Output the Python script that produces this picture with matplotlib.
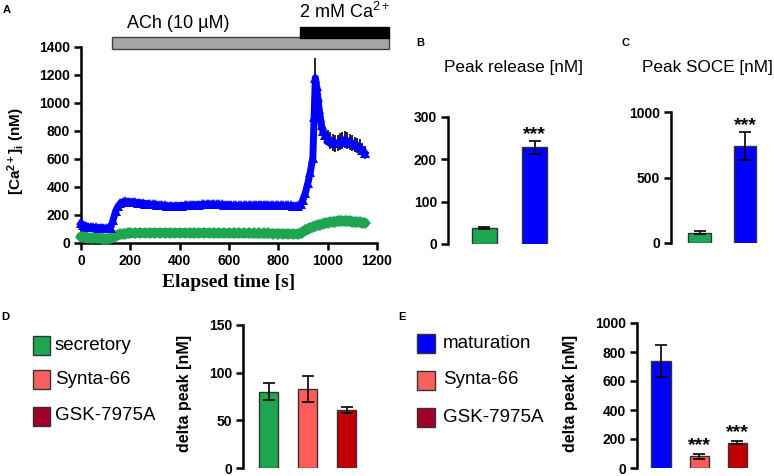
import matplotlib
matplotlib.use('Agg')
import matplotlib.pyplot as plt
from matplotlib.patches import Rectangle
import matplotlib.transforms as mtransforms

plt.rcParams['font.family'] = ['Liberation Sans', 'DejaVu Sans']
plt.rcParams['font.weight'] = 'bold'
plt.rcParams['mathtext.default'] = 'regular'

# ---------------- data ----------------
# Panel A: (time [s], mean [nM], sem [nM])
blue_trace = [
    (0, 140, 12), (10, 128, 12), (20, 120, 10), (30, 116, 10), (40, 114, 10), (50, 112, 10),
    (60, 111, 10), (70, 110, 10), (80, 109, 10), (90, 108, 10), (100, 106, 10), (110, 104, 10),
    (120, 108, 10), (130, 165, 15), (140, 225, 15), (150, 262, 15), (160, 284, 12), (170, 294, 12),
    (180, 298, 12), (190, 296, 12), (200, 294, 12), (210, 292, 12), (220, 290, 12), (230, 288, 12),
    (240, 286, 12), (250, 284, 12), (260, 282, 12), (270, 280, 12), (280, 278, 12), (290, 276, 12),
    (300, 275, 12), (310, 273, 12), (320, 271, 12), (330, 270, 12), (340, 268, 12), (350, 266, 12),
    (360, 265, 12), (370, 264, 12), (380, 264, 12), (390, 265, 12), (400, 266, 12), (410, 267, 12),
    (420, 268, 12), (430, 270, 12), (440, 270, 12), (450, 271, 12), (460, 272, 12), (470, 273, 12),
    (480, 274, 12), (490, 275, 12), (500, 276, 12), (510, 277, 12), (520, 278, 12), (530, 278, 12),
    (540, 278, 12), (550, 277, 12), (560, 276, 12), (570, 275, 12), (580, 274, 12), (590, 272, 12),
    (600, 271, 12), (610, 270, 12), (620, 269, 12), (630, 268, 12), (640, 268, 12), (650, 268, 12),
    (660, 269, 12), (670, 270, 12), (680, 270, 12), (690, 271, 12), (700, 271, 12), (710, 272, 12),
    (720, 272, 12), (730, 272, 12), (740, 272, 12), (750, 271, 12), (760, 271, 12), (770, 270, 12),
    (780, 270, 12), (790, 270, 12), (800, 270, 12), (810, 270, 12), (820, 269, 12), (830, 269, 12),
    (840, 268, 12), (850, 268, 12), (860, 267, 12), (870, 266, 12), (880, 266, 12), (890, 275, 15),
    (900, 310, 20), (910, 360, 25), (920, 430, 30), (930, 510, 35), (940, 610, 45), (945, 900, 90),
    (950, 1180, 145), (955, 1120, 70), (960, 1040, 65), (965, 960, 65), (970, 900, 65), (975, 840, 65),
    (980, 800, 65), (990, 770, 60), (1000, 750, 60), (1010, 735, 60), (1020, 720, 60), (1030, 712, 60),
    (1040, 715, 60), (1050, 725, 60), (1060, 735, 60), (1070, 738, 60), (1080, 730, 60), (1090, 722, 60),
    (1100, 715, 60), (1110, 705, 55), (1120, 698, 55), (1130, 685, 55), (1140, 665, 50), (1150, 645, 45),
]
green_trace = [
    (0, 45), (10, 42), (20, 40), (30, 38), (40, 37), (50, 36), (60, 35), (70, 34), (80, 33), (90, 32),
    (100, 32), (110, 31), (120, 34), (130, 42), (140, 50), (150, 56), (160, 61), (170, 65), (180, 67),
    (190, 69), (200, 70), (220, 71), (240, 71), (260, 72), (280, 72), (300, 72), (320, 72), (340, 72),
    (360, 72), (380, 72), (400, 72), (420, 72), (440, 72), (460, 71), (480, 71), (500, 71), (520, 71),
    (540, 71), (560, 70), (580, 70), (600, 70), (620, 70), (640, 70), (660, 69), (680, 69), (700, 69),
    (720, 68), (740, 68), (760, 68), (780, 67), (800, 67), (820, 66), (840, 66), (860, 65), (880, 64),
    (890, 68), (900, 80), (910, 90), (920, 100), (930, 108), (940, 115), (950, 121), (960, 127),
    (970, 132), (980, 137), (990, 141), (1000, 145), (1010, 148), (1020, 151), (1030, 153), (1040, 155),
    (1050, 156), (1060, 156), (1070, 156), (1080, 155), (1090, 154), (1100, 153), (1110, 151),
    (1120, 150), (1130, 148), (1140, 146), (1150, 142),
]
ach_start, ach_end = 126, 1250
ca_start, ca_end = 888, 1250

# Panel B / C
peak_release = [38, 228]
peak_release_err = [3, 16]
peak_soce = [80, 740]
peak_soce_err = [8, 110]

# Panel D / E
d_labels = ['secretory', 'Synta-66', 'GSK-7975A']
d_values = [80, 83, 61]
d_err = [9, 14, 3]
e_labels = ['maturation', 'Synta-66', 'GSK-7975A']
e_values = [740, 80, 175]
e_err = [110, 18, 12]

GREEN = '#1DA550'
BLUE = '#0000FF'
SALMON = '#FF5B5B'
DARKRED = '#C00000'
LEG_DARKRED = '#A3002A'
LEG_SALMON = '#F8605E'

W, H = 774, 476
fig = plt.figure(figsize=(W / 100, H / 100), dpi=100)


def add_ax(l, t, r, b):
    return fig.add_axes([l / W, 1 - b / H, (r - l) / W, (b - t) / H])


def ftext(x, y, s, **kw):
    return fig.text(x / W, 1 - y / H, s, **kw)


ARIAL = dict(family='Liberation Sans', weight='normal')


def style(ax, xaxis=True):
    for s in ['top', 'right']:
        ax.spines[s].set_visible(False)
    ax.spines['left'].set_linewidth(1.8)
    if xaxis:
        ax.spines['bottom'].set_linewidth(1.8)
    else:
        ax.spines['bottom'].set_visible(False)
        ax.set_xticks([])
    ax.tick_params(direction='out', length=5, width=1.8, pad=3, labelsize=10)


def stars(ax, x, y, dy):
    ax.annotate('***', xy=(x, y), xytext=(0, dy), textcoords='offset points',
                ha='center', va='bottom', size=14)


# ---------------- Panel A ----------------
axA = add_ax(81, 47, 377, 243)
style(axA)
bt = [p[0] for p in blue_trace]
bv = [p[1] for p in blue_trace]
be = [p[2] for p in blue_trace]
gt = [p[0] for p in green_trace]
gv = [p[1] for p in green_trace]
axA.plot(gt, gv, color=GREEN, lw=7, marker='D', ms=6, mew=0, solid_capstyle='round', clip_on=False, zorder=3)
axA.errorbar(bt, bv, yerr=be, color=BLUE, lw=5, marker='^', ms=7, mew=0, ecolor='black',
             elinewidth=1.2, capsize=2.5, capthick=1.2, clip_on=False, zorder=4)
axA.set_xlim(0, 1200)
axA.set_ylim(0, 1400)
axA.set_xticks(range(0, 1201, 200))
axA.set_yticks(range(0, 1401, 200))
axA.set_xlabel('Elapsed time [s]', family='Liberation Serif', weight='bold', size=14, labelpad=4)
trans = mtransforms.blended_transform_factory(axA.transData, axA.transAxes)
axA.add_patch(Rectangle((ach_start, 0.99), ach_end - ach_start, 0.061, transform=trans, clip_on=False,
                        facecolor='#A6A6A6', edgecolor='#404040', lw=1, zorder=5))
axA.add_patch(Rectangle((ca_start, 1.046), ca_end - ca_start, 0.056, transform=trans, clip_on=False,
                        facecolor='black', edgecolor='black', lw=1, zorder=6))
ftext(16, 151, r'[Ca$^{2+}$]$_{i}$ (nM)', rotation=90, ha='center', va='center', size=11)
ftext(178, 24, 'ACh (10 µM)', ha='center', va='center', size=13, **ARIAL)
ftext(345, 12, r'2 mM Ca$^{2+}$', ha='center', va='center', size=13, **ARIAL)
ftext(7, 10, 'A', ha='center', va='center', size=8)

# ---------------- Panel B ----------------
axB = add_ax(448, 117, 565, 244)
style(axB, xaxis=False)
axB.bar([0, 1], peak_release, width=0.5, color=[GREEN, BLUE], edgecolor='#333333', lw=1,
        yerr=peak_release_err, capsize=4, error_kw=dict(elinewidth=1.2, capthick=1.2))
axB.set_xlim(-0.72, 1.6)
axB.set_ylim(0, 300)
axB.set_yticks([0, 100, 200, 300])
stars(axB, 1, peak_release[1] + peak_release_err[1], -2)
ftext(514, 68, 'Peak release [nM]', ha='center', va='center', size=12.3, **ARIAL)
ftext(420, 43, 'B', ha='center', va='center', size=8)

# ---------------- Panel C ----------------
axC = add_ax(671, 112, 770, 243)
style(axC, xaxis=False)
axC.bar([0, 1], peak_soce, width=0.5, color=[GREEN, BLUE], edgecolor='#333333', lw=1,
        yerr=peak_soce_err, capsize=4, error_kw=dict(elinewidth=1.2, capthick=1.2))
axC.set_xlim(-0.63, 1.55)
axC.set_ylim(0, 1000)
axC.set_yticks([0, 500, 1000])
stars(axC, 1, peak_soce[1] + peak_soce_err[1], -2)
ftext(707, 68, 'Peak SOCE [nM]', ha='center', va='center', size=12.3, **ARIAL)
ftext(625, 43, 'C', ha='center', va='center', size=8)

# ---------------- Panel D ----------------
axD = add_ax(243, 325, 370, 468)
style(axD, xaxis=False)
axD.bar(range(3), d_values, width=0.5, color=[GREEN, SALMON, DARKRED], edgecolor='#333333', lw=1,
        yerr=d_err, capsize=4, error_kw=dict(elinewidth=1.2, capthick=1.2))
axD.set_xlim(-0.66, 2.6)
axD.set_ylim(0, 150)
axD.set_yticks([0, 50, 100, 150])
ftext(185, 393, 'delta peak [nM]', rotation=90, ha='center', va='center', size=11.5)
ftext(5, 317, 'D', ha='center', va='center', size=8)
for lab, col, yc in zip(d_labels, [GREEN, LEG_SALMON, LEG_DARKRED], [345, 379, 416]):
    fig.patches.append(Rectangle((33 / W, 1 - (yc + 9.5) / H), 17 / W, 19 / H, transform=fig.transFigure,
                                 facecolor=col, edgecolor='#333333', lw=1))
    ftext(55, yc, lab, ha='left', va='center', size=13.5, **ARIAL)

# ---------------- Panel E ----------------
axE = add_ax(637, 323, 760, 468)
style(axE, xaxis=False)
axE.bar(range(3), e_values, width=0.5, color=[BLUE, SALMON, DARKRED], edgecolor='#333333', lw=1,
        yerr=e_err, capsize=4, error_kw=dict(elinewidth=1.2, capthick=1.2))
axE.set_xlim(-0.63, 2.6)
axE.set_ylim(0, 1000)
axE.set_yticks([0, 200, 400, 600, 800, 1000])
for i in (1, 2):
    stars(axE, i, e_values[i] + e_err[i], 0)
ftext(570, 393, 'delta peak [nM]', rotation=90, ha='center', va='center', size=11.5)
ftext(402, 317, 'E', ha='center', va='center', size=8)
for lab, col, yc in zip(e_labels, [BLUE, LEG_SALMON, LEG_DARKRED], [343, 380, 417]):
    fig.patches.append(Rectangle((417 / W, 1 - (yc + 9.5) / H), 18 / W, 19 / H, transform=fig.transFigure,
                                 facecolor=col, edgecolor='#333333', lw=1))
    ftext(443, yc, lab, ha='left', va='center', size=13.5, **ARIAL)

fig.savefig('out.png', dpi=100)
